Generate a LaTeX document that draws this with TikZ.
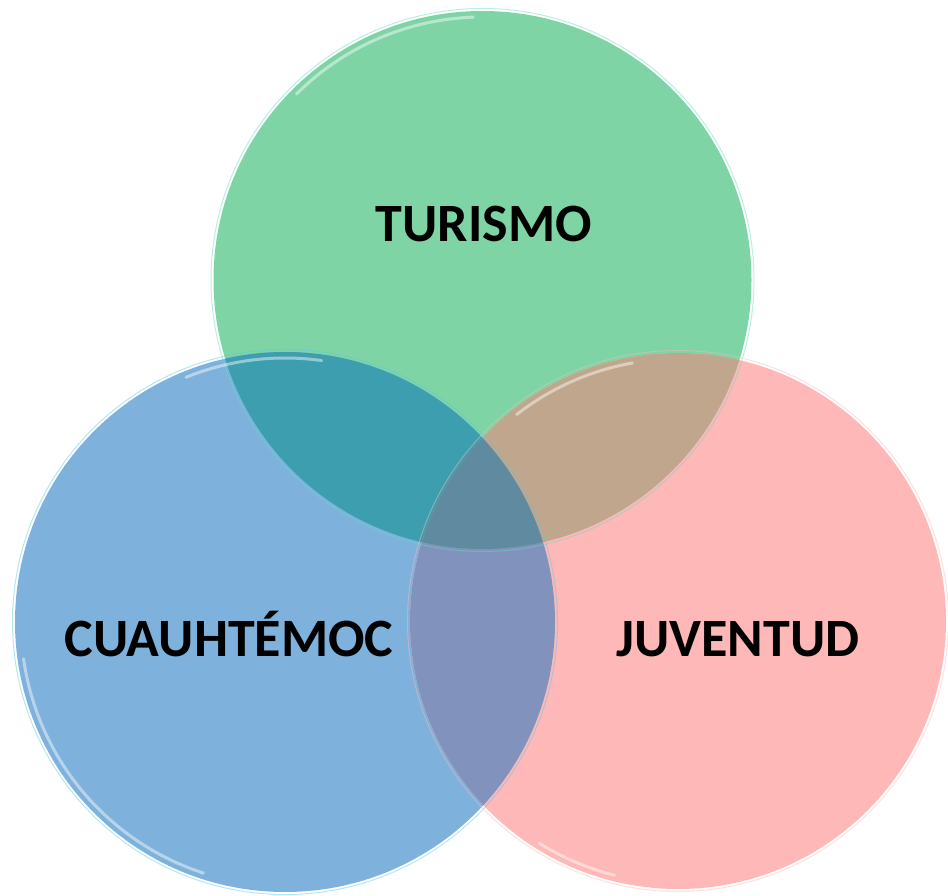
\documentclass[tikz,border=0pt]{standalone}
\usepackage{fontspec}
\setmainfont{Carlito}
\usetikzlibrary{calc}
\definecolor{grn}{HTML}{7FD4A6}
\definecolor{blu}{HTML}{7EB2DC}
\definecolor{pnk}{HTML}{FFB8B8}
\definecolor{gb}{HTML}{3D9EAF}
\definecolor{gp}{HTML}{C0A68C}
\definecolor{bp}{HTML}{8193BD}
\definecolor{gbp}{HTML}{5F8AA0}
\begin{document}
\begin{tikzpicture}[x=1pt,y=1pt,
  lbl/.style={font=\fontsize{54}{60}\selectfont\bfseries, text=black, anchor=base, inner sep=0pt},
  rim/.style={line width=1pt, opacity=0.45},
  shine/.style={white, line width=3pt, opacity=0.45, line cap=round}]
\useasboundingbox (0,0) rectangle (948,895);
\coordinate (g) at (482.5,615);
\coordinate (b) at (285,273);
\coordinate (p) at (678,274);
\def\rg{269pt}
\def\rb{270pt}
\def\rp{268pt}
% base fills
\fill[grn] (g) circle (\rg);
\fill[blu] (b) circle (\rb);
\fill[pnk] (p) circle (\rp);
% blue-pink overlap
\begin{scope}
  \clip (b) circle (\rb);
  \fill[bp] (p) circle (\rp);
\end{scope}
% overlaps with green
\begin{scope}
  \clip (g) circle (\rg);
  \fill[gb] (b) circle (\rb);
  \fill[gp] (p) circle (\rp);
  \clip (b) circle (\rb);
  \fill[gbp] (p) circle (\rp);
\end{scope}
% rims
\draw[rim, grn!70!cyan] (g) circle (271.5pt);
\draw[rim, blu!70!cyan] (b) circle (272.5pt);
\draw[rim, pnk] (p) circle (270.5pt);
% highlights
\draw[shine] ($(g)+(92:263pt)$) arc[start angle=92, end angle=135, radius=263pt];
\draw[shine] ($(b)+(82:264pt)$) arc[start angle=82, end angle=112, radius=264pt];
\draw[shine] ($(b)+(188:264pt)$) arc[start angle=188, end angle=252, radius=264pt];
\draw[shine] ($(p)+(100:262pt)$) arc[start angle=100, end angle=128, radius=262pt];
\draw[shine] ($(p)+(238:262pt)$) arc[start angle=238, end angle=256, radius=262pt];
% labels
\node[lbl] (tur) at (484,653) {TURISMO};
\node[lbl] (cua) at (229,238) {CUAUHTÉMOC};
\node[lbl] (juv) at (738,238) {JUVENTUD};
\end{tikzpicture}
\end{document}
